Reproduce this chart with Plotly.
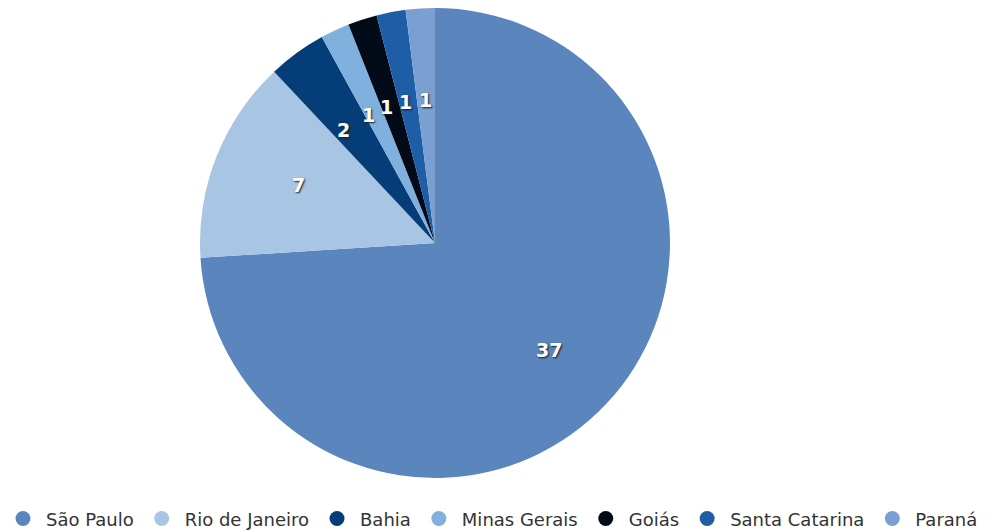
import math
import plotly.graph_objects as go

states = ["São Paulo", "Rio de Janeiro", "Bahia", "Minas Gerais", "Goiás", "Santa Catarina", "Paraná"]
counts = [37, 7, 2, 1, 1, 1, 1]
colors = ["#5b86bd", "#a8c6e4", "#053d78", "#7fb0de", "#030a18", "#1d5ea6", "#7b9fd0"]

W, H = 1007, 532
cx, cy, r = 435, 243, 235
label_frac = 0.665

fig = go.Figure()
fig.add_trace(go.Pie(
    labels=states, values=counts, sort=False, direction="clockwise", rotation=0,
    marker=dict(colors=colors, line=dict(width=0)),
    textinfo="none", showlegend=False, hoverinfo="label+value",
    domain=dict(x=[(cx - r) / W, (cx + r) / W], y=[(H - cy - r) / H, (H - cy + r) / H]),
))

# value labels placed along each slice's bisector, derived from the data
total = sum(counts)
cum = 0
for v in counts:
    mid = (cum + v / 2) / total * 2 * math.pi
    cum += v
    d = r * label_frac
    fig.add_annotation(
        x=(cx + d * math.sin(mid)) / W, y=(H - cy + d * math.cos(mid)) / H,
        xref="paper", yref="paper", text=str(v), showarrow=False,
        font=dict(color="white", size=19, family="DejaVu Sans", weight="bold",
                  shadow="1px 1px 2px #1a1a1a"),
    )

for s, c in zip(states, colors):
    fig.add_trace(go.Scatter(x=[None], y=[None], mode="markers", name=s,
                             marker=dict(symbol="circle", size=15, color=c), showlegend=True))

fig.update_layout(
    width=W, height=H, margin=dict(l=0, r=0, t=0, b=0, autoexpand=False),
    paper_bgcolor="white", plot_bgcolor="white",
    xaxis=dict(visible=False), yaxis=dict(visible=False),
    legend=dict(orientation="h", x=0.0, y=-0.01, xanchor="left", yanchor="bottom",
                font=dict(size=18, color="#333", family="DejaVu Sans"), itemwidth=36,
                traceorder="normal"),
)
fig.write_html("out.html")
